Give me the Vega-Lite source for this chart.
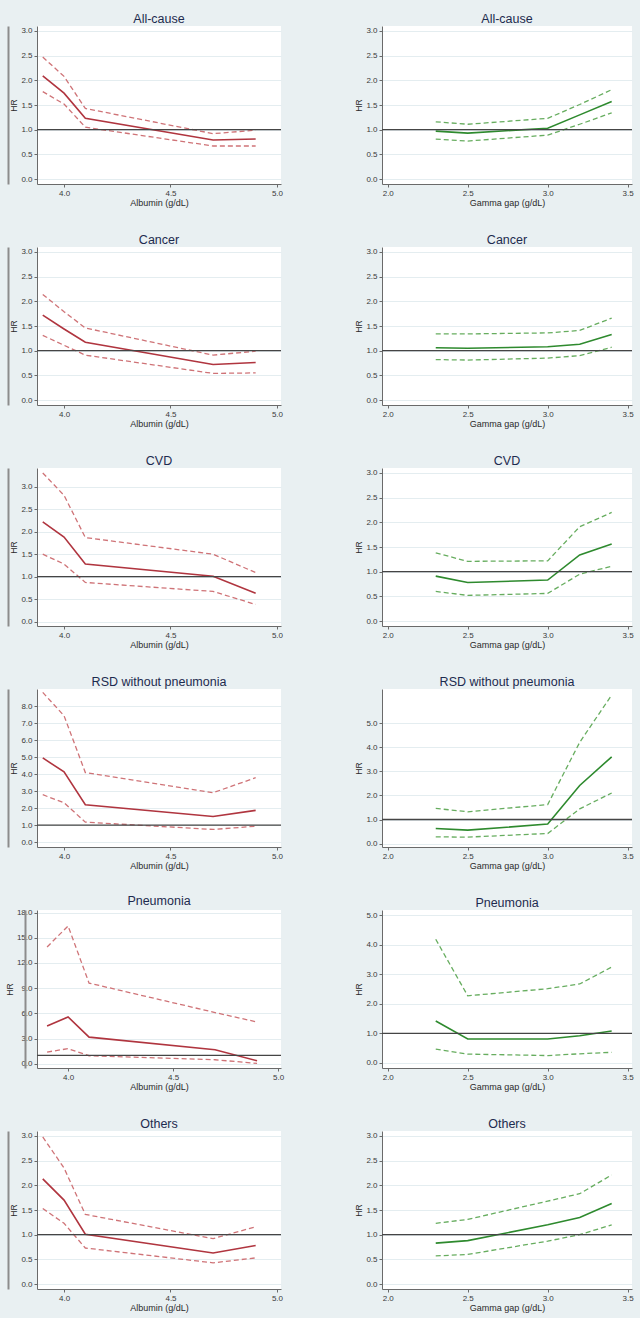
{
  "$schema": "https://vega.github.io/schema/vega-lite/v6.json",
  "background": "#e9f0f2",
  "padding": {"left": 5, "top": 12, "right": 8, "bottom": 6},
  "config": {
    "view": {"fill": "white", "stroke": null},
    "font": "Liberation Sans",
    "title": {"fontSize": 12.5, "fontWeight": "normal", "color": "#1d2b4f", "offset": 1, "anchor": "middle", "frame": "group"},
    "axis": {"labelFontSize": 8, "labelColor": "#3a3a3a", "titleFontSize": 8.5, "titleFontWeight": "normal", "titleColor": "#2a2a2a", "domainColor": "#6a6a6a", "tickColor": "#6a6a6a", "tickSize": 3, "labelPadding": 2, "gridColor": "#e4edf0"},
    "axisX": {"grid": false, "titlePadding": 1, "titleFontSize": 9},
    "axisY": {"grid": true, "labelAngle": 0, "titlePadding": 2}
  },
  "datasets": {
    "curves": [
      {"cause": "All-cause", "marker": "Albumin", "x": 3.9, "hr": 2.09, "lo": 1.77, "hi": 2.47},
      {"cause": "All-cause", "marker": "Albumin", "x": 4.0, "hr": 1.74, "lo": 1.52, "hi": 2.08},
      {"cause": "All-cause", "marker": "Albumin", "x": 4.1, "hr": 1.23, "lo": 1.05, "hi": 1.43},
      {"cause": "All-cause", "marker": "Albumin", "x": 4.7, "hr": 0.79, "lo": 0.67, "hi": 0.92},
      {"cause": "All-cause", "marker": "Albumin", "x": 4.9, "hr": 0.81, "lo": 0.67, "hi": 0.99},
      {"cause": "Cancer", "marker": "Albumin", "x": 3.9, "hr": 1.72, "lo": 1.31, "hi": 2.14},
      {"cause": "Cancer", "marker": "Albumin", "x": 4.0, "hr": 1.44, "lo": 1.11, "hi": 1.79},
      {"cause": "Cancer", "marker": "Albumin", "x": 4.1, "hr": 1.17, "lo": 0.91, "hi": 1.46},
      {"cause": "Cancer", "marker": "Albumin", "x": 4.7, "hr": 0.72, "lo": 0.54, "hi": 0.91},
      {"cause": "Cancer", "marker": "Albumin", "x": 4.9, "hr": 0.76, "lo": 0.55, "hi": 0.99},
      {"cause": "CVD", "marker": "Albumin", "x": 3.9, "hr": 2.22, "lo": 1.50, "hi": 3.31},
      {"cause": "CVD", "marker": "Albumin", "x": 4.0, "hr": 1.88, "lo": 1.28, "hi": 2.81},
      {"cause": "CVD", "marker": "Albumin", "x": 4.1, "hr": 1.28, "lo": 0.87, "hi": 1.87},
      {"cause": "CVD", "marker": "Albumin", "x": 4.7, "hr": 1.01, "lo": 0.67, "hi": 1.50},
      {"cause": "CVD", "marker": "Albumin", "x": 4.9, "hr": 0.63, "lo": 0.38, "hi": 1.09},
      {"cause": "RSD without pneumonia", "marker": "Albumin", "x": 3.9, "hr": 4.95, "lo": 2.79, "hi": 8.8},
      {"cause": "RSD without pneumonia", "marker": "Albumin", "x": 4.0, "hr": 4.13, "lo": 2.32, "hi": 7.43},
      {"cause": "RSD without pneumonia", "marker": "Albumin", "x": 4.1, "hr": 2.2, "lo": 1.18, "hi": 4.09},
      {"cause": "RSD without pneumonia", "marker": "Albumin", "x": 4.7, "hr": 1.51, "lo": 0.75, "hi": 2.91},
      {"cause": "RSD without pneumonia", "marker": "Albumin", "x": 4.9, "hr": 1.87, "lo": 0.94, "hi": 3.79},
      {"cause": "Pneumonia", "marker": "Albumin", "x": 3.9, "hr": 4.49, "lo": 1.4, "hi": 13.9},
      {"cause": "Pneumonia", "marker": "Albumin", "x": 4.0, "hr": 5.57, "lo": 1.8, "hi": 16.4},
      {"cause": "Pneumonia", "marker": "Albumin", "x": 4.1, "hr": 3.17, "lo": 0.96, "hi": 9.6},
      {"cause": "Pneumonia", "marker": "Albumin", "x": 4.7, "hr": 1.68, "lo": 0.48, "hi": 6.1},
      {"cause": "Pneumonia", "marker": "Albumin", "x": 4.9, "hr": 0.36, "lo": 0.05, "hi": 4.97},
      {"cause": "Others", "marker": "Albumin", "x": 3.9, "hr": 2.13, "lo": 1.53, "hi": 2.98},
      {"cause": "Others", "marker": "Albumin", "x": 4.0, "hr": 1.70, "lo": 1.23, "hi": 2.35},
      {"cause": "Others", "marker": "Albumin", "x": 4.1, "hr": 1.01, "lo": 0.73, "hi": 1.41},
      {"cause": "Others", "marker": "Albumin", "x": 4.7, "hr": 0.63, "lo": 0.43, "hi": 0.92},
      {"cause": "Others", "marker": "Albumin", "x": 4.9, "hr": 0.78, "lo": 0.53, "hi": 1.16},
      {"cause": "All-cause", "marker": "Gamma gap", "x": 2.3, "hr": 0.97, "lo": 0.81, "hi": 1.16},
      {"cause": "All-cause", "marker": "Gamma gap", "x": 2.5, "hr": 0.93, "lo": 0.77, "hi": 1.11},
      {"cause": "All-cause", "marker": "Gamma gap", "x": 3.0, "hr": 1.03, "lo": 0.89, "hi": 1.23},
      {"cause": "All-cause", "marker": "Gamma gap", "x": 3.2, "hr": 1.30, "lo": 1.11, "hi": 1.51},
      {"cause": "All-cause", "marker": "Gamma gap", "x": 3.4, "hr": 1.57, "lo": 1.34, "hi": 1.81},
      {"cause": "Cancer", "marker": "Gamma gap", "x": 2.3, "hr": 1.06, "lo": 0.82, "hi": 1.34},
      {"cause": "Cancer", "marker": "Gamma gap", "x": 2.5, "hr": 1.05, "lo": 0.81, "hi": 1.34},
      {"cause": "Cancer", "marker": "Gamma gap", "x": 3.0, "hr": 1.08, "lo": 0.85, "hi": 1.36},
      {"cause": "Cancer", "marker": "Gamma gap", "x": 3.2, "hr": 1.13, "lo": 0.90, "hi": 1.41},
      {"cause": "Cancer", "marker": "Gamma gap", "x": 3.4, "hr": 1.33, "lo": 1.07, "hi": 1.66},
      {"cause": "CVD", "marker": "Gamma gap", "x": 2.3, "hr": 0.91, "lo": 0.60, "hi": 1.38},
      {"cause": "CVD", "marker": "Gamma gap", "x": 2.5, "hr": 0.78, "lo": 0.52, "hi": 1.21},
      {"cause": "CVD", "marker": "Gamma gap", "x": 3.0, "hr": 0.83, "lo": 0.56, "hi": 1.22},
      {"cause": "CVD", "marker": "Gamma gap", "x": 3.2, "hr": 1.34, "lo": 0.95, "hi": 1.91},
      {"cause": "CVD", "marker": "Gamma gap", "x": 3.4, "hr": 1.56, "lo": 1.11, "hi": 2.2},
      {"cause": "RSD without pneumonia", "marker": "Gamma gap", "x": 2.3, "hr": 0.63, "lo": 0.28, "hi": 1.46},
      {"cause": "RSD without pneumonia", "marker": "Gamma gap", "x": 2.5, "hr": 0.56, "lo": 0.27, "hi": 1.32},
      {"cause": "RSD without pneumonia", "marker": "Gamma gap", "x": 3.0, "hr": 0.81, "lo": 0.42, "hi": 1.62},
      {"cause": "RSD without pneumonia", "marker": "Gamma gap", "x": 3.2, "hr": 2.41, "lo": 1.44, "hi": 4.2},
      {"cause": "RSD without pneumonia", "marker": "Gamma gap", "x": 3.4, "hr": 3.6, "lo": 2.1, "hi": 6.16},
      {"cause": "Pneumonia", "marker": "Gamma gap", "x": 2.3, "hr": 1.42, "lo": 0.47, "hi": 4.18},
      {"cause": "Pneumonia", "marker": "Gamma gap", "x": 2.5, "hr": 0.81, "lo": 0.30, "hi": 2.27},
      {"cause": "Pneumonia", "marker": "Gamma gap", "x": 3.0, "hr": 0.81, "lo": 0.25, "hi": 2.51},
      {"cause": "Pneumonia", "marker": "Gamma gap", "x": 3.2, "hr": 0.92, "lo": 0.31, "hi": 2.67},
      {"cause": "Pneumonia", "marker": "Gamma gap", "x": 3.4, "hr": 1.08, "lo": 0.36, "hi": 3.24},
      {"cause": "Others", "marker": "Gamma gap", "x": 2.3, "hr": 0.83, "lo": 0.57, "hi": 1.23},
      {"cause": "Others", "marker": "Gamma gap", "x": 2.5, "hr": 0.88, "lo": 0.60, "hi": 1.31},
      {"cause": "Others", "marker": "Gamma gap", "x": 3.0, "hr": 1.20, "lo": 0.87, "hi": 1.68},
      {"cause": "Others", "marker": "Gamma gap", "x": 3.2, "hr": 1.35, "lo": 1.00, "hi": 1.83},
      {"cause": "Others", "marker": "Gamma gap", "x": 3.4, "hr": 1.63, "lo": 1.20, "hi": 2.21}
    ]
  },
  "columns": 2,
  "bounds": "flush",
  "spacing": {"row": 63, "column": 101},
  "concat": [
    {
      "title": "All-cause", "width": 244, "height": 158,
      "data": {"name": "curves"},
      "transform": [{"filter": "datum.cause === 'All-cause' && datum.marker === 'Albumin'"}],
      "layer": [
        {"mark": {"type": "line", "color": "#b0353f", "strokeWidth": 1.6},
         "encoding": {
           "x": {"field": "x", "type": "quantitative", "scale": {"domain": [3.873, 5.019], "nice": false, "zero": false}, "axis": {"title": "Albumin (g/dL)", "values": [4, 4.5, 5], "format": ".1f"}},
           "y": {"field": "hr", "type": "quantitative", "scale": {"domain": [-0.1, 3.1], "nice": false, "zero": false}, "axis": {"title": "HR", "values": [0, 0.5, 1, 1.5, 2, 2.5, 3], "format": ".1f"}}}},
        {"mark": {"type": "line", "color": "#cf7377", "strokeWidth": 1.3, "strokeDash": [5, 3]},
         "encoding": {"x": {"field": "x", "type": "quantitative"}, "y": {"field": "hi", "type": "quantitative", "axis": null}}},
        {"mark": {"type": "line", "color": "#cf7377", "strokeWidth": 1.3, "strokeDash": [5, 3]},
         "encoding": {"x": {"field": "x", "type": "quantitative"}, "y": {"field": "lo", "type": "quantitative", "axis": null}}},
        {"data": {"values": [{"hr": 1}]}, "mark": {"type": "rule", "color": "#454545", "strokeWidth": 1.3},
         "encoding": {"y": {"field": "hr", "type": "quantitative", "axis": {"orient": "left", "offset": 29, "labels": false, "ticks": false, "grid": false, "title": null, "domainColor": "#8c8c8c", "domainWidth": 2}}}}
      ],
      "resolve": {"axis": {"y": "independent"}}
    },
    {
      "title": "All-cause", "width": 250, "height": 158,
      "data": {"name": "curves"},
      "transform": [{"filter": "datum.cause === 'All-cause' && datum.marker === 'Gamma gap'"}],
      "layer": [
        {"mark": {"type": "line", "color": "#2e8a2e", "strokeWidth": 1.6},
         "encoding": {
           "x": {"field": "x", "type": "quantitative", "scale": {"domain": [1.964, 3.527], "nice": false, "zero": false}, "axis": {"title": "Gamma gap (g/dL)", "values": [2, 2.5, 3, 3.5], "format": ".1f"}},
           "y": {"field": "hr", "type": "quantitative", "scale": {"domain": [-0.1, 3.1], "nice": false, "zero": false}, "axis": {"title": "HR", "values": [0, 0.5, 1, 1.5, 2, 2.5, 3], "format": ".1f"}}}},
        {"mark": {"type": "line", "color": "#67ad5f", "strokeWidth": 1.3, "strokeDash": [5, 3]},
         "encoding": {"x": {"field": "x", "type": "quantitative"}, "y": {"field": "hi", "type": "quantitative", "axis": null}}},
        {"mark": {"type": "line", "color": "#67ad5f", "strokeWidth": 1.3, "strokeDash": [5, 3]},
         "encoding": {"x": {"field": "x", "type": "quantitative"}, "y": {"field": "lo", "type": "quantitative", "axis": null}}},
        {"data": {"values": [{"hr": 1}]}, "mark": {"type": "rule", "color": "#454545", "strokeWidth": 1.3},
         "encoding": {"y": {"field": "hr", "type": "quantitative", "axis": null}}}
      ],
      "resolve": {"axis": {"y": "independent"}}
    },
    {
      "title": "Cancer", "width": 244, "height": 158,
      "data": {"name": "curves"},
      "transform": [{"filter": "datum.cause === 'Cancer' && datum.marker === 'Albumin'"}],
      "layer": [
        {"mark": {"type": "line", "color": "#b0353f", "strokeWidth": 1.6},
         "encoding": {
           "x": {"field": "x", "type": "quantitative", "scale": {"domain": [3.873, 5.019], "nice": false, "zero": false}, "axis": {"title": "Albumin (g/dL)", "values": [4, 4.5, 5], "format": ".1f"}},
           "y": {"field": "hr", "type": "quantitative", "scale": {"domain": [-0.1, 3.1], "nice": false, "zero": false}, "axis": {"title": "HR", "values": [0, 0.5, 1, 1.5, 2, 2.5, 3], "format": ".1f"}}}},
        {"mark": {"type": "line", "color": "#cf7377", "strokeWidth": 1.3, "strokeDash": [5, 3]},
         "encoding": {"x": {"field": "x", "type": "quantitative"}, "y": {"field": "hi", "type": "quantitative", "axis": null}}},
        {"mark": {"type": "line", "color": "#cf7377", "strokeWidth": 1.3, "strokeDash": [5, 3]},
         "encoding": {"x": {"field": "x", "type": "quantitative"}, "y": {"field": "lo", "type": "quantitative", "axis": null}}},
        {"data": {"values": [{"hr": 1}]}, "mark": {"type": "rule", "color": "#454545", "strokeWidth": 1.3},
         "encoding": {"y": {"field": "hr", "type": "quantitative", "axis": {"orient": "left", "offset": 29, "labels": false, "ticks": false, "grid": false, "title": null, "domainColor": "#8c8c8c", "domainWidth": 2}}}}
      ],
      "resolve": {"axis": {"y": "independent"}}
    },
    {
      "title": "Cancer", "width": 250, "height": 158,
      "data": {"name": "curves"},
      "transform": [{"filter": "datum.cause === 'Cancer' && datum.marker === 'Gamma gap'"}],
      "layer": [
        {"mark": {"type": "line", "color": "#2e8a2e", "strokeWidth": 1.6},
         "encoding": {
           "x": {"field": "x", "type": "quantitative", "scale": {"domain": [1.964, 3.527], "nice": false, "zero": false}, "axis": {"title": "Gamma gap (g/dL)", "values": [2, 2.5, 3, 3.5], "format": ".1f"}},
           "y": {"field": "hr", "type": "quantitative", "scale": {"domain": [-0.1, 3.1], "nice": false, "zero": false}, "axis": {"title": "HR", "values": [0, 0.5, 1, 1.5, 2, 2.5, 3], "format": ".1f"}}}},
        {"mark": {"type": "line", "color": "#67ad5f", "strokeWidth": 1.3, "strokeDash": [5, 3]},
         "encoding": {"x": {"field": "x", "type": "quantitative"}, "y": {"field": "hi", "type": "quantitative", "axis": null}}},
        {"mark": {"type": "line", "color": "#67ad5f", "strokeWidth": 1.3, "strokeDash": [5, 3]},
         "encoding": {"x": {"field": "x", "type": "quantitative"}, "y": {"field": "lo", "type": "quantitative", "axis": null}}},
        {"data": {"values": [{"hr": 1}]}, "mark": {"type": "rule", "color": "#454545", "strokeWidth": 1.3},
         "encoding": {"y": {"field": "hr", "type": "quantitative", "axis": null}}}
      ],
      "resolve": {"axis": {"y": "independent"}}
    },
    {
      "title": "CVD", "width": 244, "height": 158,
      "data": {"name": "curves"},
      "transform": [{"filter": "datum.cause === 'CVD' && datum.marker === 'Albumin'"}],
      "layer": [
        {"mark": {"type": "line", "color": "#b0353f", "strokeWidth": 1.6},
         "encoding": {
           "x": {"field": "x", "type": "quantitative", "scale": {"domain": [3.873, 5.019], "nice": false, "zero": false}, "axis": {"title": "Albumin (g/dL)", "values": [4, 4.5, 5], "format": ".1f"}},
           "y": {"field": "hr", "type": "quantitative", "scale": {"domain": [-0.1, 3.42], "nice": false, "zero": false}, "axis": {"title": "HR", "values": [0, 0.5, 1, 1.5, 2, 2.5, 3], "format": ".1f"}}}},
        {"mark": {"type": "line", "color": "#cf7377", "strokeWidth": 1.3, "strokeDash": [5, 3]},
         "encoding": {"x": {"field": "x", "type": "quantitative"}, "y": {"field": "hi", "type": "quantitative", "axis": null}}},
        {"mark": {"type": "line", "color": "#cf7377", "strokeWidth": 1.3, "strokeDash": [5, 3]},
         "encoding": {"x": {"field": "x", "type": "quantitative"}, "y": {"field": "lo", "type": "quantitative", "axis": null}}},
        {"data": {"values": [{"hr": 1}]}, "mark": {"type": "rule", "color": "#454545", "strokeWidth": 1.3},
         "encoding": {"y": {"field": "hr", "type": "quantitative", "axis": {"orient": "left", "offset": 29, "labels": false, "ticks": false, "grid": false, "title": null, "domainColor": "#8c8c8c", "domainWidth": 2}}}}
      ],
      "resolve": {"axis": {"y": "independent"}}
    },
    {
      "title": "CVD", "width": 250, "height": 158,
      "data": {"name": "curves"},
      "transform": [{"filter": "datum.cause === 'CVD' && datum.marker === 'Gamma gap'"}],
      "layer": [
        {"mark": {"type": "line", "color": "#2e8a2e", "strokeWidth": 1.6},
         "encoding": {
           "x": {"field": "x", "type": "quantitative", "scale": {"domain": [1.964, 3.527], "nice": false, "zero": false}, "axis": {"title": "Gamma gap (g/dL)", "values": [2, 2.5, 3, 3.5], "format": ".1f"}},
           "y": {"field": "hr", "type": "quantitative", "scale": {"domain": [-0.1, 3.1], "nice": false, "zero": false}, "axis": {"title": "HR", "values": [0, 0.5, 1, 1.5, 2, 2.5, 3], "format": ".1f"}}}},
        {"mark": {"type": "line", "color": "#67ad5f", "strokeWidth": 1.3, "strokeDash": [5, 3]},
         "encoding": {"x": {"field": "x", "type": "quantitative"}, "y": {"field": "hi", "type": "quantitative", "axis": null}}},
        {"mark": {"type": "line", "color": "#67ad5f", "strokeWidth": 1.3, "strokeDash": [5, 3]},
         "encoding": {"x": {"field": "x", "type": "quantitative"}, "y": {"field": "lo", "type": "quantitative", "axis": null}}},
        {"data": {"values": [{"hr": 1}]}, "mark": {"type": "rule", "color": "#454545", "strokeWidth": 1.3},
         "encoding": {"y": {"field": "hr", "type": "quantitative", "axis": null}}}
      ],
      "resolve": {"axis": {"y": "independent"}}
    },
    {
      "title": "RSD without pneumonia", "width": 244, "height": 158,
      "data": {"name": "curves"},
      "transform": [{"filter": "datum.cause === 'RSD without pneumonia' && datum.marker === 'Albumin'"}],
      "layer": [
        {"mark": {"type": "line", "color": "#b0353f", "strokeWidth": 1.6},
         "encoding": {
           "x": {"field": "x", "type": "quantitative", "scale": {"domain": [3.873, 5.019], "nice": false, "zero": false}, "axis": {"title": "Albumin (g/dL)", "values": [4, 4.5, 5], "format": ".1f"}},
           "y": {"field": "hr", "type": "quantitative", "scale": {"domain": [-0.28, 9.0], "nice": false, "zero": false}, "axis": {"title": "HR", "values": [0, 1, 2, 3, 4, 5, 6, 7, 8], "format": ".1f"}}}},
        {"mark": {"type": "line", "color": "#cf7377", "strokeWidth": 1.3, "strokeDash": [5, 3]},
         "encoding": {"x": {"field": "x", "type": "quantitative"}, "y": {"field": "hi", "type": "quantitative", "axis": null}}},
        {"mark": {"type": "line", "color": "#cf7377", "strokeWidth": 1.3, "strokeDash": [5, 3]},
         "encoding": {"x": {"field": "x", "type": "quantitative"}, "y": {"field": "lo", "type": "quantitative", "axis": null}}},
        {"data": {"values": [{"hr": 1}]}, "mark": {"type": "rule", "color": "#454545", "strokeWidth": 1.3},
         "encoding": {"y": {"field": "hr", "type": "quantitative", "axis": {"orient": "left", "offset": 29, "labels": false, "ticks": false, "grid": false, "title": null, "domainColor": "#8c8c8c", "domainWidth": 2}}}}
      ],
      "resolve": {"axis": {"y": "independent"}}
    },
    {
      "title": "RSD without pneumonia", "width": 250, "height": 158,
      "data": {"name": "curves"},
      "transform": [{"filter": "datum.cause === 'RSD without pneumonia' && datum.marker === 'Gamma gap'"}],
      "layer": [
        {"mark": {"type": "line", "color": "#2e8a2e", "strokeWidth": 1.6},
         "encoding": {
           "x": {"field": "x", "type": "quantitative", "scale": {"domain": [1.964, 3.527], "nice": false, "zero": false}, "axis": {"title": "Gamma gap (g/dL)", "values": [2, 2.5, 3, 3.5], "format": ".1f"}},
           "y": {"field": "hr", "type": "quantitative", "scale": {"domain": [-0.14, 6.41], "nice": false, "zero": false}, "axis": {"title": "HR", "values": [0, 1, 2, 3, 4, 5], "format": ".1f"}}}},
        {"mark": {"type": "line", "color": "#67ad5f", "strokeWidth": 1.3, "strokeDash": [5, 3]},
         "encoding": {"x": {"field": "x", "type": "quantitative"}, "y": {"field": "hi", "type": "quantitative", "axis": null}}},
        {"mark": {"type": "line", "color": "#67ad5f", "strokeWidth": 1.3, "strokeDash": [5, 3]},
         "encoding": {"x": {"field": "x", "type": "quantitative"}, "y": {"field": "lo", "type": "quantitative", "axis": null}}},
        {"data": {"values": [{"hr": 1}]}, "mark": {"type": "rule", "color": "#454545", "strokeWidth": 1.3},
         "encoding": {"y": {"field": "hr", "type": "quantitative", "axis": null}}}
      ],
      "resolve": {"axis": {"y": "independent"}}
    },
    {
      "title": "Pneumonia", "width": 244, "height": 158,
      "data": {"name": "curves"},
      "transform": [{"filter": "datum.cause === 'Pneumonia' && datum.marker === 'Albumin'"}],
      "layer": [
        {"mark": {"type": "line", "color": "#b0353f", "strokeWidth": 1.6},
         "encoding": {
           "x": {"field": "x", "type": "quantitative", "scale": {"domain": [3.852, 5.014], "nice": false, "zero": false}, "axis": {"title": "Albumin (g/dL)", "values": [4, 4.5, 5], "format": ".1f"}},
           "y": {"field": "hr", "type": "quantitative", "scale": {"domain": [-0.5, 18.3], "nice": false, "zero": false}, "axis": {"title": "HR", "values": [0, 3, 6, 9, 12, 15, 18], "format": ".1f"}}}},
        {"mark": {"type": "line", "color": "#cf7377", "strokeWidth": 1.3, "strokeDash": [5, 3]},
         "encoding": {"x": {"field": "x", "type": "quantitative"}, "y": {"field": "hi", "type": "quantitative", "axis": null}}},
        {"mark": {"type": "line", "color": "#cf7377", "strokeWidth": 1.3, "strokeDash": [5, 3]},
         "encoding": {"x": {"field": "x", "type": "quantitative"}, "y": {"field": "lo", "type": "quantitative", "axis": null}}},
        {"data": {"values": [{"hr": 1}]}, "mark": {"type": "rule", "color": "#454545", "strokeWidth": 1.3},
         "encoding": {"y": {"field": "hr", "type": "quantitative", "axis": {"orient": "left", "offset": 12, "labels": false, "ticks": false, "grid": false, "title": null, "domainColor": "#8c8c8c", "domainWidth": 2}}}}
      ],
      "resolve": {"axis": {"y": "independent"}}
    },
    {
      "title": "Pneumonia", "width": 250, "height": 158,
      "data": {"name": "curves"},
      "transform": [{"filter": "datum.cause === 'Pneumonia' && datum.marker === 'Gamma gap'"}],
      "layer": [
        {"mark": {"type": "line", "color": "#2e8a2e", "strokeWidth": 1.6},
         "encoding": {
           "x": {"field": "x", "type": "quantitative", "scale": {"domain": [1.964, 3.527], "nice": false, "zero": false}, "axis": {"title": "Gamma gap (g/dL)", "values": [2, 2.5, 3, 3.5], "format": ".1f"}},
           "y": {"field": "hr", "type": "quantitative", "scale": {"domain": [-0.17, 5.17], "nice": false, "zero": false}, "axis": {"title": "HR", "values": [0, 1, 2, 3, 4, 5], "format": ".1f"}}}},
        {"mark": {"type": "line", "color": "#67ad5f", "strokeWidth": 1.3, "strokeDash": [5, 3]},
         "encoding": {"x": {"field": "x", "type": "quantitative"}, "y": {"field": "hi", "type": "quantitative", "axis": null}}},
        {"mark": {"type": "line", "color": "#67ad5f", "strokeWidth": 1.3, "strokeDash": [5, 3]},
         "encoding": {"x": {"field": "x", "type": "quantitative"}, "y": {"field": "lo", "type": "quantitative", "axis": null}}},
        {"data": {"values": [{"hr": 1}]}, "mark": {"type": "rule", "color": "#454545", "strokeWidth": 1.3},
         "encoding": {"y": {"field": "hr", "type": "quantitative", "axis": null}}}
      ],
      "resolve": {"axis": {"y": "independent"}}
    },
    {
      "title": "Others", "width": 244, "height": 158,
      "data": {"name": "curves"},
      "transform": [{"filter": "datum.cause === 'Others' && datum.marker === 'Albumin'"}],
      "layer": [
        {"mark": {"type": "line", "color": "#b0353f", "strokeWidth": 1.6},
         "encoding": {
           "x": {"field": "x", "type": "quantitative", "scale": {"domain": [3.873, 5.019], "nice": false, "zero": false}, "axis": {"title": "Albumin (g/dL)", "values": [4, 4.5, 5], "format": ".1f"}},
           "y": {"field": "hr", "type": "quantitative", "scale": {"domain": [-0.1, 3.1], "nice": false, "zero": false}, "axis": {"title": "HR", "values": [0, 0.5, 1, 1.5, 2, 2.5, 3], "format": ".1f"}}}},
        {"mark": {"type": "line", "color": "#cf7377", "strokeWidth": 1.3, "strokeDash": [5, 3]},
         "encoding": {"x": {"field": "x", "type": "quantitative"}, "y": {"field": "hi", "type": "quantitative", "axis": null}}},
        {"mark": {"type": "line", "color": "#cf7377", "strokeWidth": 1.3, "strokeDash": [5, 3]},
         "encoding": {"x": {"field": "x", "type": "quantitative"}, "y": {"field": "lo", "type": "quantitative", "axis": null}}},
        {"data": {"values": [{"hr": 1}]}, "mark": {"type": "rule", "color": "#454545", "strokeWidth": 1.3},
         "encoding": {"y": {"field": "hr", "type": "quantitative", "axis": {"orient": "left", "offset": 29, "labels": false, "ticks": false, "grid": false, "title": null, "domainColor": "#8c8c8c", "domainWidth": 2}}}}
      ],
      "resolve": {"axis": {"y": "independent"}}
    },
    {
      "title": "Others", "width": 250, "height": 158,
      "data": {"name": "curves"},
      "transform": [{"filter": "datum.cause === 'Others' && datum.marker === 'Gamma gap'"}],
      "layer": [
        {"mark": {"type": "line", "color": "#2e8a2e", "strokeWidth": 1.6},
         "encoding": {
           "x": {"field": "x", "type": "quantitative", "scale": {"domain": [1.964, 3.527], "nice": false, "zero": false}, "axis": {"title": "Gamma gap (g/dL)", "values": [2, 2.5, 3, 3.5], "format": ".1f"}},
           "y": {"field": "hr", "type": "quantitative", "scale": {"domain": [-0.1, 3.1], "nice": false, "zero": false}, "axis": {"title": "HR", "values": [0, 0.5, 1, 1.5, 2, 2.5, 3], "format": ".1f"}}}},
        {"mark": {"type": "line", "color": "#67ad5f", "strokeWidth": 1.3, "strokeDash": [5, 3]},
         "encoding": {"x": {"field": "x", "type": "quantitative"}, "y": {"field": "hi", "type": "quantitative", "axis": null}}},
        {"mark": {"type": "line", "color": "#67ad5f", "strokeWidth": 1.3, "strokeDash": [5, 3]},
         "encoding": {"x": {"field": "x", "type": "quantitative"}, "y": {"field": "lo", "type": "quantitative", "axis": null}}},
        {"data": {"values": [{"hr": 1}]}, "mark": {"type": "rule", "color": "#454545", "strokeWidth": 1.3},
         "encoding": {"y": {"field": "hr", "type": "quantitative", "axis": null}}}
      ],
      "resolve": {"axis": {"y": "independent"}}
    }
  ]
}
